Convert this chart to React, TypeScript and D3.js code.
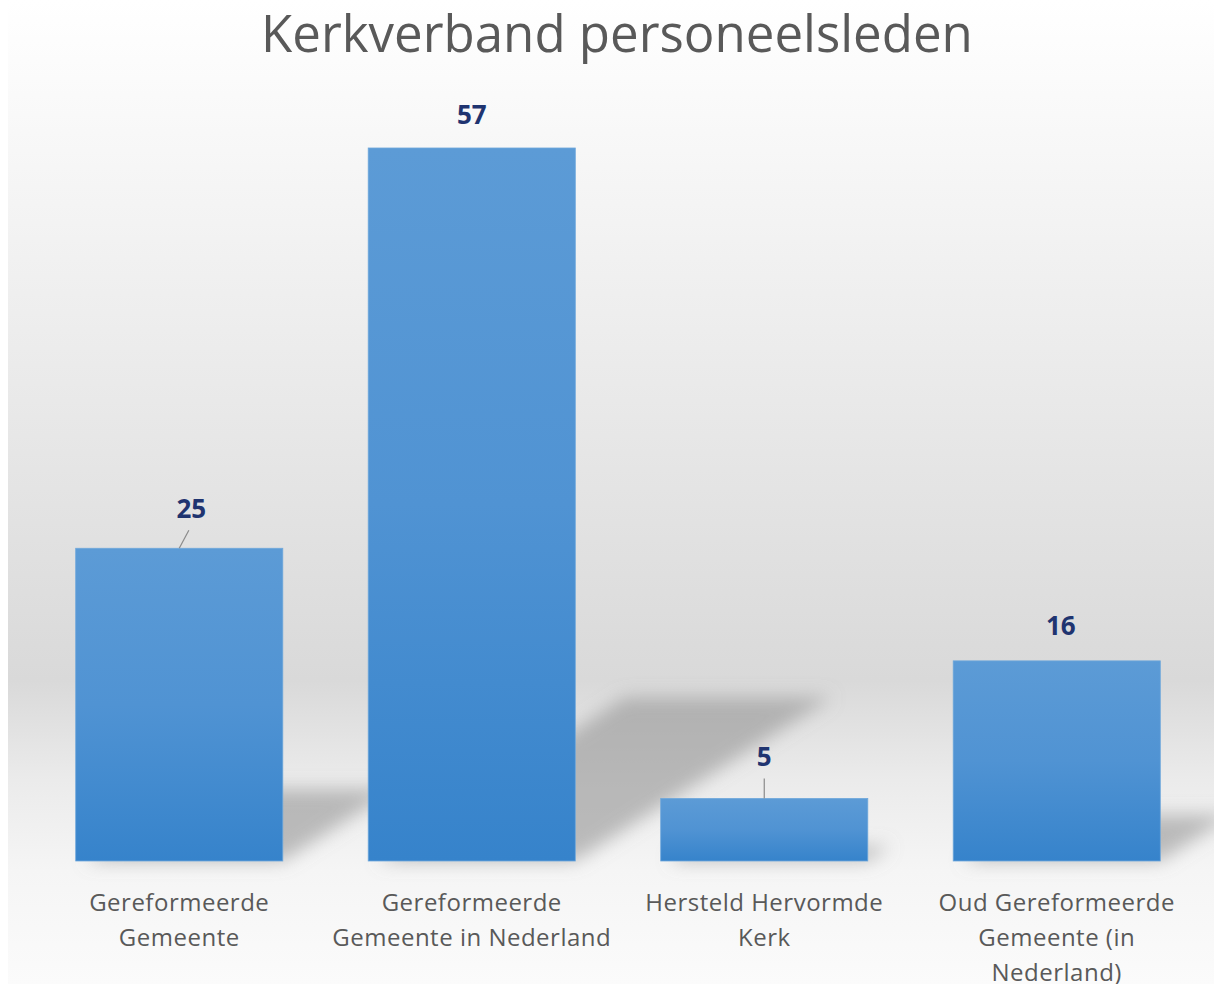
import React from "react";
import * as d3 from "d3";

const categories = [
  ["Gereformeerde", "Gemeente"],
  ["Gereformeerde", "Gemeente in Nederland"],
  ["Hersteld Hervormde", "Kerk"],
  ["Oud Gereformeerde", "Gemeente (in", "Nederland)"],
];
const values = [25, 57, 5, 16];
const title = "Kerkverband personeelsleden";

// label nudges, as Excel placed them by hand
const labelNudge = [
  { dx: 12, dy: 30, leader: true },
  { dx: 0, dy: 24, leader: false },
  { dx: 0, dy: 32, leader: true },
  { dx: 4, dy: 26, leader: false },
];

const W = 1214;
const H = 984;
const plot = { left: 33, right: 1203, top: 148, bottom: 861 };

const App = () => {
  const ids = d3.range(values.length).map(String);
  const x = d3
    .scaleBand()
    .domain(ids)
    .range([plot.left, plot.right])
    .paddingInner(0.292)
    .paddingOuter(0.146);
  const y = d3
    .scaleLinear()
    .domain([0, d3.max(values)])
    .range([plot.bottom, plot.top]);

  const shadowPath = (i) => {
    const x0 = x(String(i));
    const x1 = x0 + x.bandwidth();
    const h = plot.bottom - y(values[i]);
    const dx = h * 0.36;
    const dy = h * 0.23;
    const p = d3.path();
    p.moveTo(x0 + 10, plot.bottom);
    p.lineTo(x1, plot.bottom);
    p.lineTo(x1 + dx, plot.bottom - dy);
    p.lineTo(x0 + dx, plot.bottom - dy);
    p.closePath();
    return p.toString();
  };

  return (
    <svg
      width={W}
      height={H}
      style={{ position: "absolute", left: 0, top: 0, display: "block" }}
    >
      <defs>
        <linearGradient id="bg" x1="0" y1="0" x2="0" y2={H} gradientUnits="userSpaceOnUse">
          <stop offset="0" stopColor="#ffffff" />
          <stop offset={60 / H} stopColor="#fcfcfc" />
          <stop offset={330 / H} stopColor="#ededed" />
          <stop offset={680 / H} stopColor="#d9d9d9" />
          <stop offset={780 / H} stopColor="#ebebeb" />
          <stop offset={870 / H} stopColor="#f5f5f5" />
          <stop offset="1" stopColor="#fbfbfb" />
        </linearGradient>
        <linearGradient id="bar" x1="0" y1="0" x2="0" y2="1">
          <stop offset="0" stopColor="#5c9bd6" />
          <stop offset="0.5" stopColor="#5093d3" />
          <stop offset="1" stopColor="#3683cb" />
        </linearGradient>
        <filter id="blur" x="-30%" y="-30%" width="160%" height="160%">
          <feGaussianBlur stdDeviation="9" />
        </filter>
      </defs>

      <rect x={8} y={0} width={W - 8} height={H} fill="url(#bg)" />

      <text
        x={617}
        y={52}
        textAnchor="middle"
        fill="#595959"
        style={{ fontFamily: "'Open Sans', sans-serif", fontSize: 51 }}
      >
        {title}
      </text>

      <g filter="url(#blur)">
        {values.map((v, i) => (
          <path key={i} d={shadowPath(i)} fill="#8c8c8c" fillOpacity={0.55} />
        ))}
      </g>

      {values.map((v, i) => (
        <rect
          key={i}
          x={x(String(i))}
          y={y(v)}
          width={x.bandwidth()}
          height={plot.bottom - y(v)}
          fill="url(#bar)"
          stroke="#6ea7db"
          strokeWidth={0.8}
        />
      ))}

      {values.map((v, i) => {
        const cx = x(String(i)) + x.bandwidth() / 2;
        const n = labelNudge[i];
        const ty = y(v) - n.dy;
        return (
          <g key={i}>
            {n.leader && (
              <line
                x1={cx}
                y1={y(v)}
                x2={cx + n.dx * 0.8}
                y2={ty + 12}
                stroke="#8a8a8a"
                strokeWidth={1.2}
              />
            )}
            <text
              x={cx + n.dx}
              y={ty}
              textAnchor="middle"
              fill="#1f3470"
              style={{ fontFamily: "'Open Sans', sans-serif", fontSize: 26, fontWeight: 700 }}
            >
              {v}
            </text>
          </g>
        );
      })}

      {categories.map((lines, i) => {
        const cx = x(String(i)) + x.bandwidth() / 2;
        return (
          <text
            key={i}
            textAnchor="middle"
            fill="#595959"
            style={{ fontFamily: "'Open Sans', sans-serif", fontSize: 24, letterSpacing: 0.5 }}
          >
            {lines.map((t, j) => (
              <tspan key={j} x={cx} y={911 + j * 35}>
                {t}
              </tspan>
            ))}
          </text>
        );
      })}
    </svg>
  );
};

export default App;
